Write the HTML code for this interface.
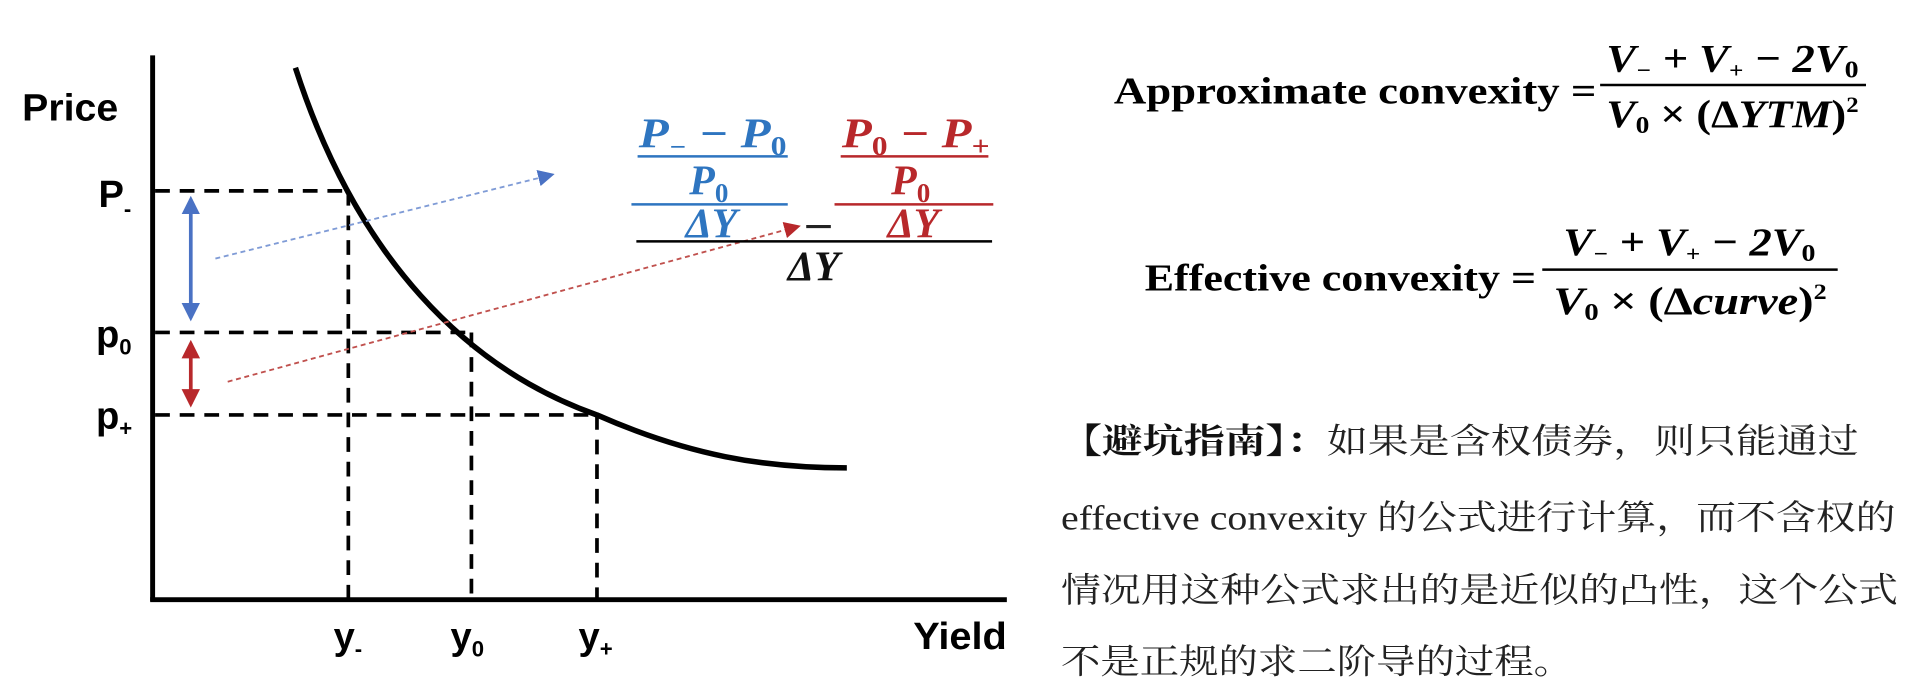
<!DOCTYPE html>
<html><head><meta charset="utf-8"><style>
html,body{margin:0;padding:0;background:#fff;width:1930px;height:692px;overflow:hidden}
svg{display:block}
.lab{font-family:"Liberation Sans",sans-serif;font-weight:bold;fill:#000}
.m{font-family:"Liberation Serif",serif;font-weight:bold;font-style:italic}
.mr{font-family:"Liberation Serif",serif;font-weight:bold;font-style:normal}
.zh{font-family:"Liberation Serif","Noto Serif CJK SC","Noto Sans CJK SC",serif;fill:#222}
</style></head><body>
<svg width="1930" height="692" viewBox="0 0 1568 562" preserveAspectRatio="none" xmlns="http://www.w3.org/2000/svg">
<defs>
<marker id="ab" viewBox="0 0 10 10" refX="8" refY="5" markerWidth="5" markerHeight="5" orient="auto-start-reverse"><path d="M0,0 L10,5 L0,10 z" fill="#4a72c4"/></marker>
<marker id="ar" viewBox="0 0 10 10" refX="8" refY="5" markerWidth="5" markerHeight="5" orient="auto-start-reverse"><path d="M0,0 L10,5 L0,10 z" fill="#b8282b"/></marker>
<marker id="abs" viewBox="0 0 10 10" refX="8" refY="5" markerWidth="9" markerHeight="9" orient="auto"><path d="M0,0 L10,5 L0,10 z" fill="#4a72c4"/></marker>
<marker id="ars" viewBox="0 0 10 10" refX="8" refY="5" markerWidth="9" markerHeight="9" orient="auto"><path d="M0,0 L10,5 L0,10 z" fill="#b8282b"/></marker>
</defs>
<line x1="124" y1="45" x2="124" y2="488" stroke="#000" stroke-width="4"/>
<line x1="122" y1="487" x2="818" y2="487" stroke="#000" stroke-width="4"/>
<g stroke="#000" stroke-width="3" stroke-dasharray="12,8" fill="none">
<line x1="126" y1="155" x2="283" y2="155"/>
<line x1="126" y1="270" x2="383" y2="270"/>
<line x1="126" y1="337" x2="485" y2="337"/>
<line x1="283" y1="155" x2="283" y2="487"/>
<line x1="383" y1="270" x2="383" y2="487"/>
<line x1="485" y1="337" x2="485" y2="487"/>
</g>
<path d="M240,55 C290,210 380,300 485,337 C560,370 620,380 688,380" stroke="#000" stroke-width="4.5" fill="none"/>
<line x1="155" y1="162" x2="155" y2="258" stroke="#4a72c4" stroke-width="3" marker-start="url(#ab)" marker-end="url(#ab)"/>
<line x1="155" y1="279" x2="155" y2="328" stroke="#b8282b" stroke-width="3" marker-start="url(#ar)" marker-end="url(#ar)"/>
<line x1="175" y1="210" x2="448" y2="142" stroke="#7f9bd6" stroke-width="1.5" stroke-dasharray="4,3" marker-end="url(#abs)"/>
<line x1="185" y1="310" x2="648" y2="184" stroke="#c0504d" stroke-width="1.5" stroke-dasharray="4,3" marker-end="url(#ars)"/>
<text class="lab" x="18" y="98" font-size="31" textLength="78" lengthAdjust="spacingAndGlyphs">Price</text>
<text class="lab" x="80" y="168" font-size="31">P<tspan font-size="18" dy="8">-</tspan></text>
<text class="lab" x="78" y="282" font-size="31">p<tspan font-size="18" dy="6">0</tspan></text>
<text class="lab" x="78" y="348" font-size="31">p<tspan font-size="18" dy="6">+</tspan></text>
<text class="lab" x="271" y="527" font-size="31">y<tspan font-size="18" dy="6">-</tspan></text>
<text class="lab" x="366" y="527" font-size="31">y<tspan font-size="18" dy="6">0</tspan></text>
<text class="lab" x="470" y="527" font-size="31">y<tspan font-size="18" dy="6">+</tspan></text>
<text class="lab" x="742" y="527" font-size="31" textLength="76" lengthAdjust="spacingAndGlyphs">Yield</text>
<g fill="#2e75c0" class="m" font-size="34">
<text x="519" y="120" textLength="120" lengthAdjust="spacingAndGlyphs">P<tspan font-size="20" dy="6">−</tspan><tspan dy="-6"> − P</tspan><tspan font-size="22" dy="6" class="mr">0</tspan></text>
<text x="560" y="158">P<tspan font-size="22" dy="6" class="mr">0</tspan></text>
<text x="557" y="193">ΔY</text>
</g>
<line x1="518" y1="127" x2="640" y2="127" stroke="#2e75c0" stroke-width="2"/>
<line x1="513" y1="166" x2="640" y2="166" stroke="#2e75c0" stroke-width="2"/>
<line x1="655" y1="184" x2="675" y2="184" stroke="#222" stroke-width="2.5"/>
<g fill="#b8282b" class="m" font-size="34">
<text x="684" y="120" textLength="120" lengthAdjust="spacingAndGlyphs">P<tspan font-size="22" dy="6" class="mr">0</tspan><tspan dy="-6"> − P</tspan><tspan font-size="22" dy="6" class="mr">+</tspan></text>
<text x="724" y="158">P<tspan font-size="22" dy="6" class="mr">0</tspan></text>
<text x="721" y="193">ΔY</text>
</g>
<line x1="683" y1="127" x2="803" y2="127" stroke="#b8282b" stroke-width="2"/>
<line x1="678" y1="166" x2="807" y2="166" stroke="#b8282b" stroke-width="2"/>
<line x1="517" y1="196" x2="806" y2="196" stroke="#000" stroke-width="2"/>
<text class="m" x="640" y="228" font-size="34" fill="#111">ΔY</text>
<text class="mr" x="905" y="84" font-size="31" textLength="392" lengthAdjust="spacingAndGlyphs">Approximate convexity =</text>
<text class="m" x="1305" y="58" font-size="32" textLength="205" lengthAdjust="spacingAndGlyphs">V<tspan font-size="18" dy="5">−</tspan><tspan dy="-5"> + V</tspan><tspan font-size="18" dy="5">+</tspan><tspan dy="-5"> − 2V</tspan><tspan font-size="20" dy="5" class="mr">0</tspan></text>
<line x1="1300" y1="69" x2="1516" y2="69" stroke="#000" stroke-width="2"/>
<text class="m" x="1305" y="103" font-size="32" textLength="205" lengthAdjust="spacingAndGlyphs">V<tspan font-size="20" dy="5" class="mr">0</tspan><tspan dy="-5" class="mr"> × (Δ</tspan>YTM<tspan class="mr">)</tspan><tspan font-size="18" dy="-12" class="mr">2</tspan></text>
<text class="mr" x="930" y="236" font-size="31" textLength="318" lengthAdjust="spacingAndGlyphs">Effective convexity =</text>
<text class="m" x="1270" y="207" font-size="32" textLength="205" lengthAdjust="spacingAndGlyphs">V<tspan font-size="18" dy="5">−</tspan><tspan dy="-5"> + V</tspan><tspan font-size="18" dy="5">+</tspan><tspan dy="-5"> − 2V</tspan><tspan font-size="20" dy="5" class="mr">0</tspan></text>
<line x1="1253" y1="219" x2="1493" y2="219" stroke="#000" stroke-width="2"/>
<text class="m" x="1262" y="255" font-size="32" textLength="222" lengthAdjust="spacingAndGlyphs">V<tspan font-size="20" dy="5" class="mr">0</tspan><tspan dy="-5" class="mr"> × (Δ</tspan>curve<tspan class="mr">)</tspan><tspan font-size="18" dy="-12" class="mr">2</tspan></text>
<text class="zh" x="862" y="368" font-size="28" textLength="648" lengthAdjust="spacingAndGlyphs"><tspan font-weight="bold" fill="#111">【避坑指南】：</tspan>如果是含权债券，则只能通过</text>
<text class="zh" x="862" y="430" font-size="28" textLength="678" lengthAdjust="spacingAndGlyphs">effective convexity 的公式进行计算，而不含权的</text>
<text class="zh" x="862" y="489" font-size="28" textLength="680" lengthAdjust="spacingAndGlyphs">情况用这种公式求出的是近似的凸性，这个公式</text>
<text class="zh" x="862" y="547" font-size="28" textLength="416" lengthAdjust="spacingAndGlyphs">不是正规的求二阶导的过程。</text>
</svg>
</body></html>
